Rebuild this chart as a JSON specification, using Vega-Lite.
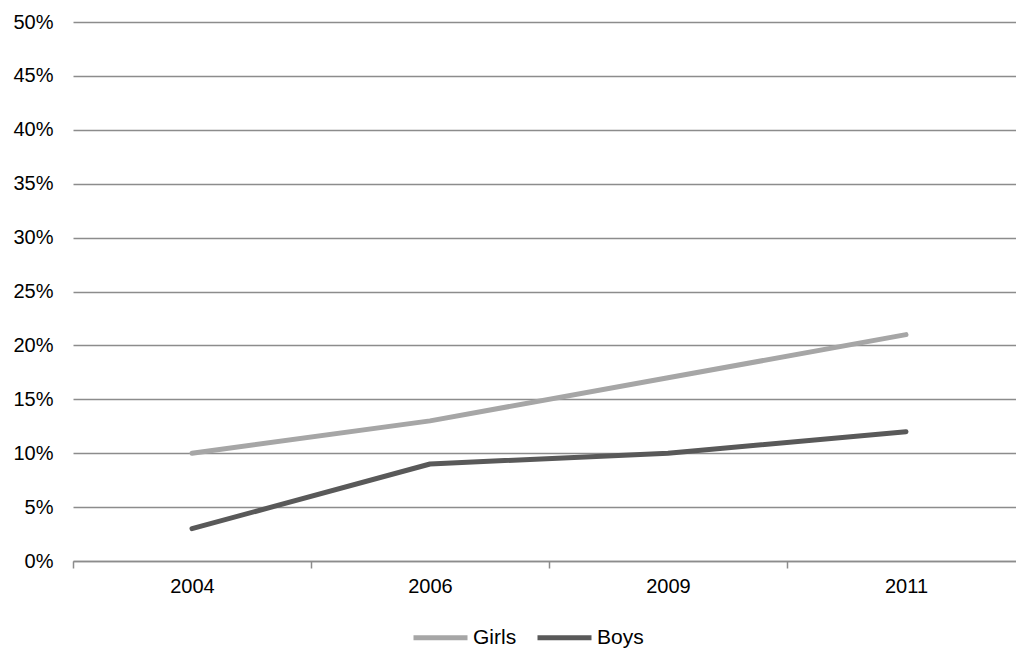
{
  "$schema": "https://vega.github.io/schema/vega-lite/v6.json",
  "autosize": "none",
  "width": 943,
  "height": 539,
  "padding": {"left": 73, "top": 22, "right": 0, "bottom": 87},
  "background": "white",
  "config": {
    "view": {"stroke": null},
    "font": "Liberation Sans",
    "axis": {"labelFont": "Liberation Sans", "labelColor": "#000000", "labelFontSize": 20}
  },
  "data": {
    "values": [
      {"year": "2004", "series": "Girls", "value": 0.10},
      {"year": "2006", "series": "Girls", "value": 0.13},
      {"year": "2009", "series": "Girls", "value": 0.17},
      {"year": "2011", "series": "Girls", "value": 0.21},
      {"year": "2004", "series": "Boys", "value": 0.03},
      {"year": "2006", "series": "Boys", "value": 0.09},
      {"year": "2009", "series": "Boys", "value": 0.10},
      {"year": "2011", "series": "Boys", "value": 0.12}
    ]
  },
  "mark": {"type": "line", "strokeWidth": 5, "strokeCap": "round", "strokeJoin": "round"},
  "encoding": {
    "x": {
      "field": "year",
      "type": "ordinal",
      "scale": {"type": "band", "range": [0, 952], "paddingInner": 0, "paddingOuter": 0},
      "axis": {
        "title": null,
        "labelAngle": 0,
        "tickBand": "extent",
        "grid": false,
        "domainColor": "#8c8c8c",
        "domainWidth": 1.5,
        "tickColor": "#8c8c8c",
        "tickWidth": 1.5,
        "tickSize": 7,
        "labelPadding": 8
      }
    },
    "y": {
      "field": "value",
      "type": "quantitative",
      "scale": {"domain": [0, 0.5], "nice": false},
      "axis": {
        "title": null,
        "format": ".0%",
        "values": [0, 0.05, 0.1, 0.15, 0.2, 0.25, 0.3, 0.35, 0.4, 0.45, 0.5],
        "domain": false,
        "ticks": false,
        "grid": true,
        "gridColor": "#8c8c8c",
        "gridWidth": 1.5,
        "gridOpacity": 1,
        "labelPadding": 20
      }
    },
    "color": {
      "field": "series",
      "type": "nominal",
      "scale": {"domain": ["Girls", "Boys"], "range": ["#a6a6a6", "#595959"]},
      "legend": {
        "title": null,
        "orient": "none",
        "direction": "horizontal",
        "legendX": 338,
        "legendY": 586,
        "symbolType": "stroke",
        "symbolSize": 2916,
        "symbolStrokeWidth": 5,
        "labelFont": "Liberation Sans",
        "labelFontSize": 21,
        "labelColor": "#000000",
        "labelOffset": 3,
        "columnPadding": 10
      }
    }
  }
}
